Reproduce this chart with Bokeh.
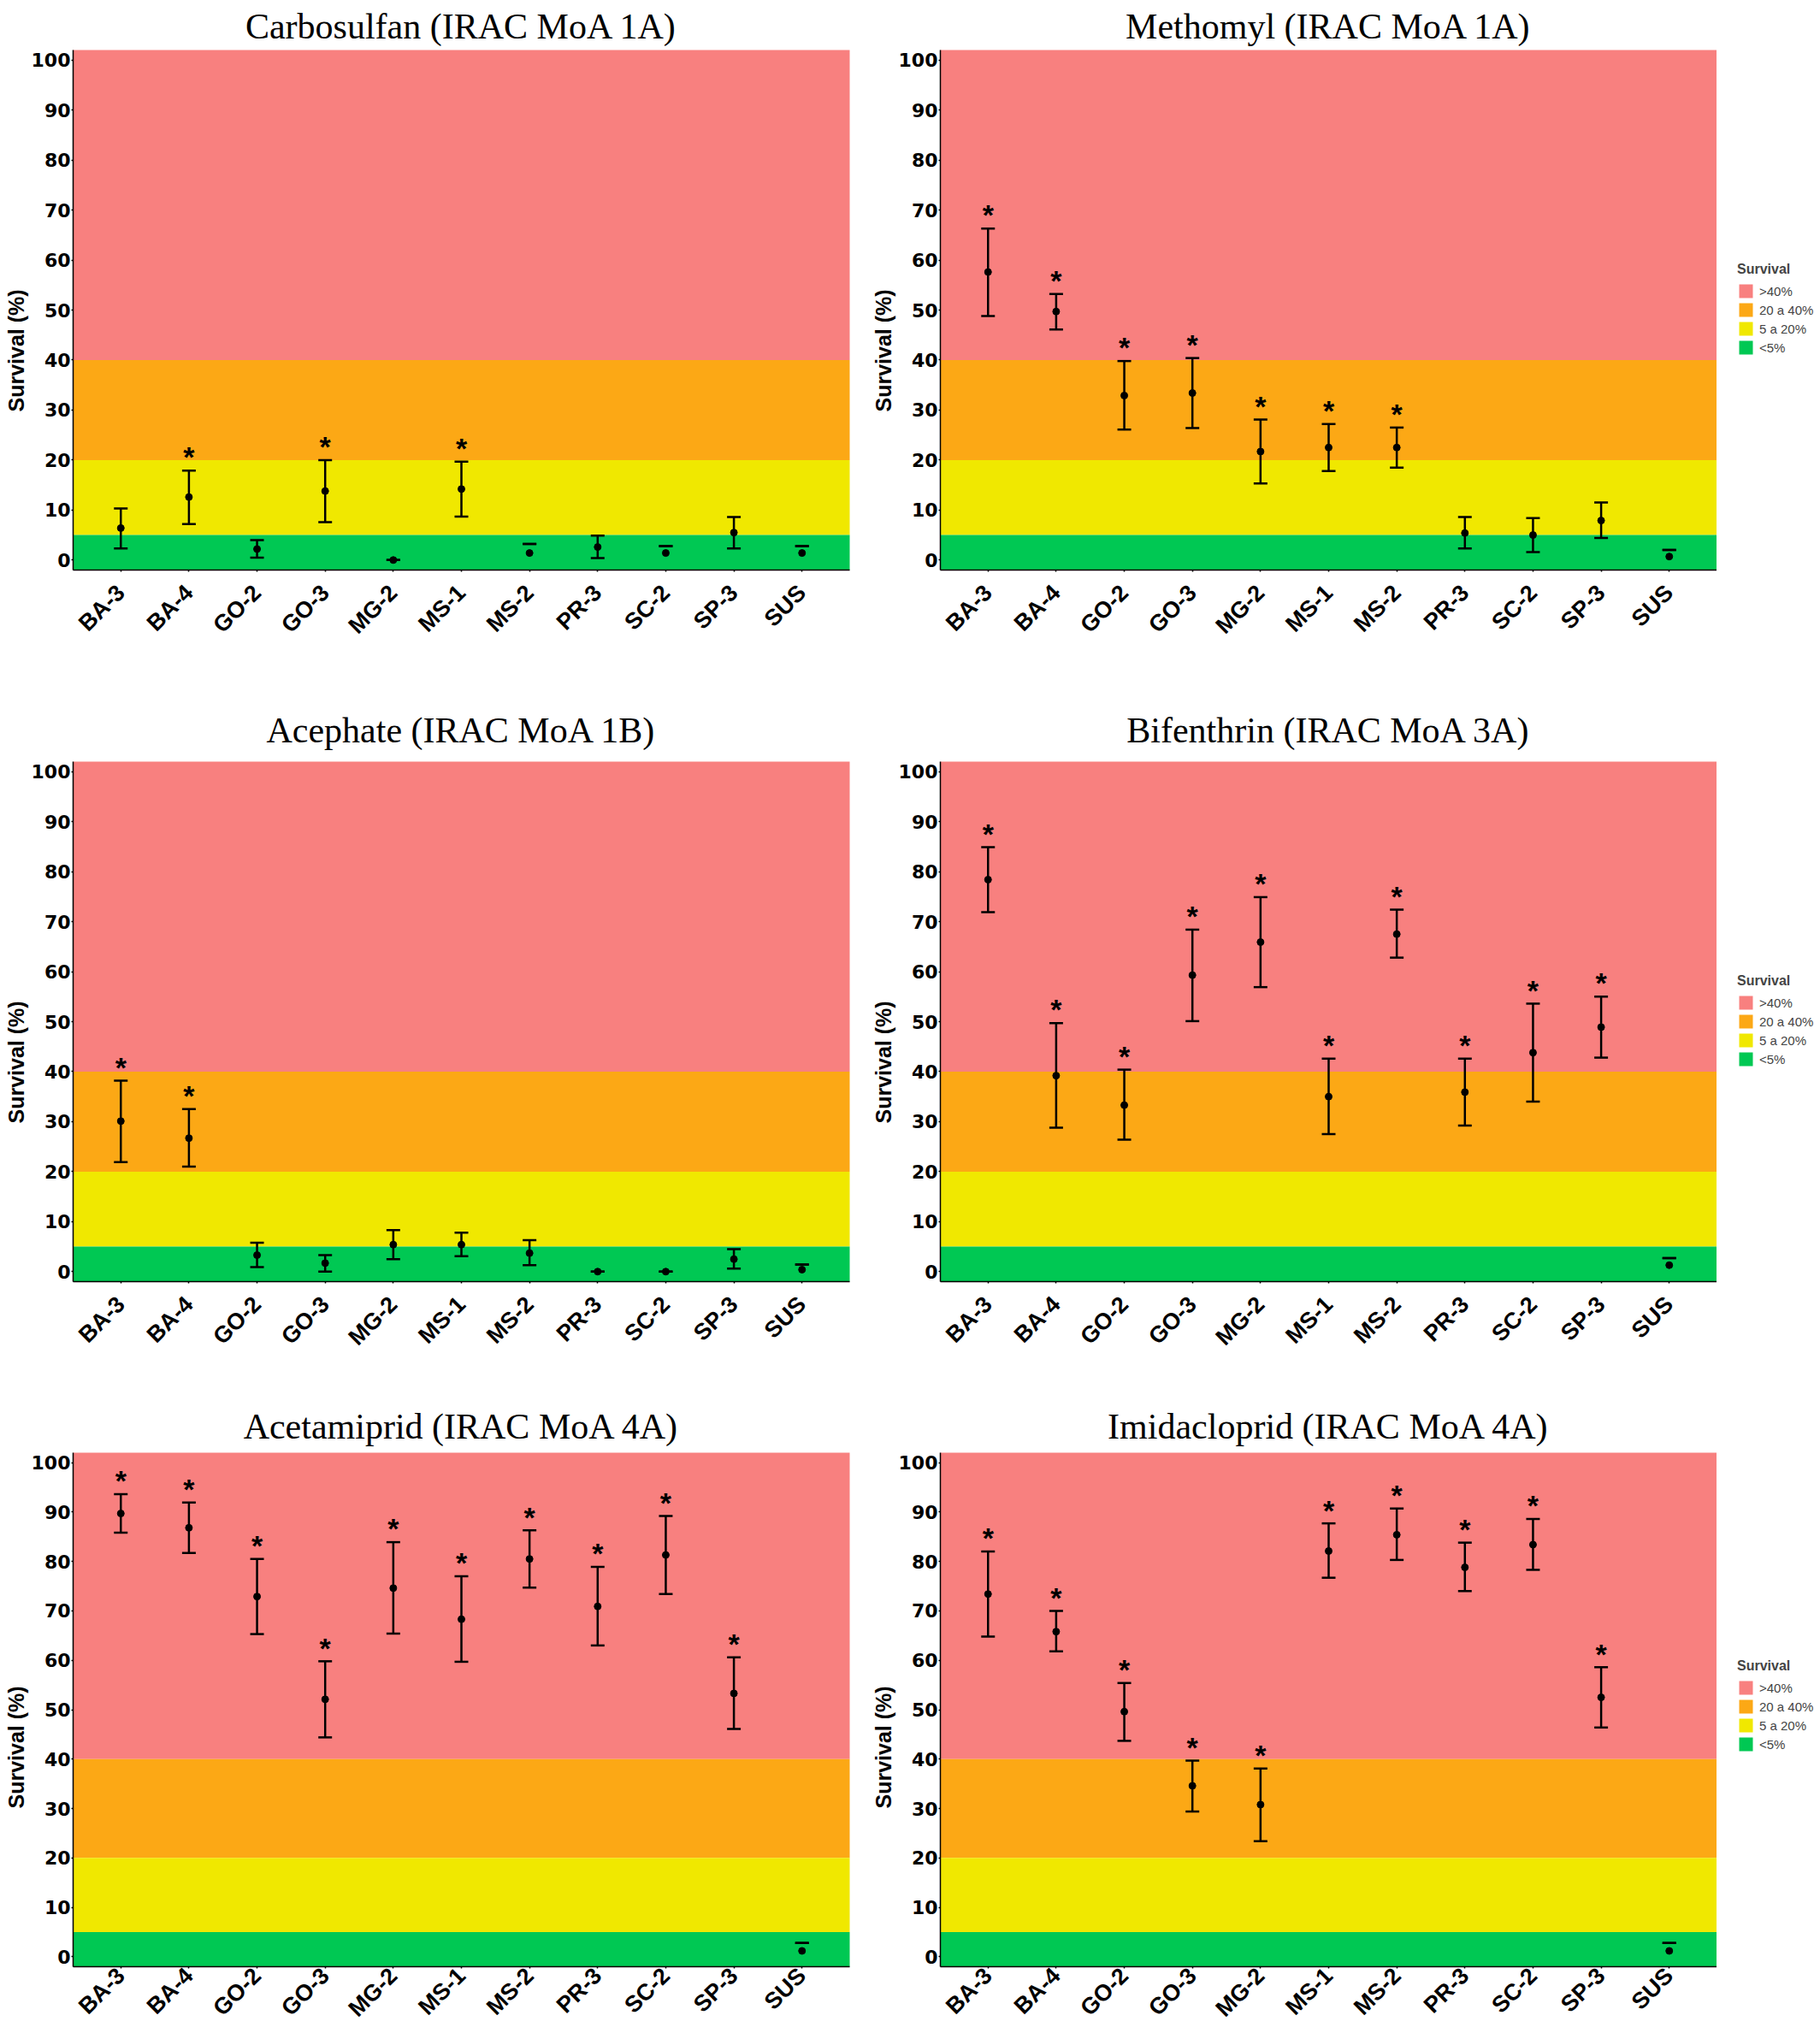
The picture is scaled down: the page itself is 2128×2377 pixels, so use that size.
import math
from bokeh.plotting import figure
from bokeh.models import (ColumnDataSource, FactorRange, Range1d, FixedTicker,
                          Whisker, TeeHead, Legend, LegendItem, Title)
from bokeh.layouts import row, column
from bokeh.embed import file_html
from bokeh.resources import INLINE
from bokeh.core.properties import value

# ---------------- data ----------------
categories = ["BA-3", "BA-4", "GO-2", "GO-3", "MG-2", "MS-1", "MS-2", "PR-3", "SC-2", "SP-3", "SUS"]
y_ticks = [0, 10, 20, 30, 40, 50, 60, 70, 80, 90, 100]
y_label = "Survival (%)"

band_labels = [">40%", "20 a 40%", "5 a 20%", "<5%"]
band_low = [40, 20, 5, -10]
band_high = [110, 40, 20, 5]
band_colors = ["#F8807F", "#FCA815", "#F0E800", "#00C853"]

titles = ["Carbosulfan (IRAC MoA 1A)", "Methomyl (IRAC MoA 1A)",
          "Acephate (IRAC MoA 1B)", "Bifenthrin (IRAC MoA 3A)",
          "Acetamiprid (IRAC MoA 4A)", "Imidacloprid (IRAC MoA 4A)"]

carbosulfan_mean = [6.4, 12.6, 2.2, 13.8, 0.0, 14.2, 1.4, 2.6, 1.4, 5.5, 1.4]
carbosulfan_upper = [10.3, 17.9, 4.0, 20.0, 0.0, 19.7, 3.2, 4.9, 2.8, 8.6, 2.8]
carbosulfan_lower = [2.3, 7.2, 0.5, 7.6, 0.0, 8.7, None, 0.4, None, 2.3, None]
carbosulfan_sig = [0, 1, 0, 1, 0, 1, 0, 0, 0, 0, 0]

methomyl_mean = [57.6, 49.7, 32.9, 33.4, 21.7, 22.5, 22.5, 5.4, 5.0, 7.9, 0.7]
methomyl_upper = [66.3, 53.2, 39.8, 40.4, 28.1, 27.2, 26.5, 8.6, 8.4, 11.5, 2.0]
methomyl_lower = [48.8, 46.1, 26.1, 26.4, 15.3, 17.8, 18.5, 2.3, 1.6, 4.4, None]
methomyl_sig = [1, 1, 1, 1, 1, 1, 1, 0, 0, 0, 0]

acephate_mean = [30.1, 26.7, 3.3, 1.7, 5.4, 5.4, 3.7, 0.0, 0.0, 2.5, 0.4]
acephate_upper = [38.2, 32.5, 5.8, 3.3, 8.3, 7.8, 6.3, 0.0, 0.0, 4.5, 1.4]
acephate_lower = [21.9, 21.0, 0.9, 0.0, 2.5, 3.1, 1.3, 0.0, 0.0, 0.6, None]
acephate_sig = [1, 1, 0, 0, 0, 0, 0, 0, 0, 0, 0]

bifenthrin_mean = [78.4, 39.2, 33.3, 59.3, 65.9, 35.0, 67.5, 35.9, 43.8, 48.9, 1.3]
bifenthrin_upper = [84.9, 49.7, 40.4, 68.4, 74.9, 42.6, 72.4, 42.6, 53.6, 55.0, 2.7]
bifenthrin_lower = [71.9, 28.8, 26.4, 50.1, 56.9, 27.5, 62.8, 29.2, 34.0, 42.8, None]
bifenthrin_sig = [1, 1, 1, 1, 1, 1, 1, 1, 1, 1, 0]

acetamiprid_mean = [89.7, 86.8, 72.9, 52.1, 74.6, 68.3, 80.5, 70.9, 81.3, 53.3, 1.2]
acetamiprid_upper = [93.6, 91.9, 80.5, 59.8, 83.9, 77.0, 86.3, 78.9, 89.2, 60.6, 2.8]
acetamiprid_lower = [85.8, 81.7, 65.3, 44.4, 65.4, 59.7, 74.7, 63.0, 73.4, 46.1, None]
acetamiprid_sig = [1, 1, 1, 1, 1, 1, 1, 1, 1, 1, 0]

imidacloprid_mean = [73.4, 65.8, 49.6, 34.6, 30.8, 82.1, 85.4, 78.8, 83.4, 52.5, 1.2]
imidacloprid_upper = [82.0, 70.0, 55.4, 39.7, 38.1, 87.7, 90.7, 83.8, 88.6, 58.6, 2.8]
imidacloprid_lower = [64.8, 61.8, 43.7, 29.4, 23.4, 76.7, 80.3, 74.0, 78.3, 46.4, None]
imidacloprid_sig = [1, 1, 1, 1, 1, 1, 1, 1, 1, 1, 0]

# ---------------- layout constants ----------------
FRAME_W = 908
FRAME_H = 608
LEG_W = 121


def band_source():
    return ColumnDataSource(dict(lo=band_low, hi=band_high, color=band_colors, label=band_labels))


def make_panel(title, mean, upper, lower, sig, right_col, top_border, bottom_border,
               title_standoff, xlabel_standoff):
    if right_col:
        width, mbl, mbr = 89 + FRAME_W, 89, 0
    else:
        width, mbl, mbr = 1010, 85, 1010 - 85 - FRAME_W
    height = top_border + FRAME_H + bottom_border

    p = figure(x_range=FactorRange(factors=categories, range_padding=0.2, range_padding_units="absolute"),
               y_range=Range1d(-2, 102), width=width, height=height,
               min_border_left=mbl, min_border_right=mbr,
               min_border_top=top_border, min_border_bottom=bottom_border,
               output_backend="svg", toolbar_location=None, title=title)
    p.title.align = "center"
    p.title.standoff = title_standoff
    p.title.text_font = "Liberation Serif"
    p.title.text_font_size = "42px"
    p.title.text_font_style = "normal"
    p.title.text_color = "black"

    p.outline_line_color = None
    p.grid.visible = False
    p.background_fill_color = "white"

    # background bands
    p.quad(left=-1, right=12, bottom="lo", top="hi", fill_color="color",
           line_color=None, source=band_source())

    # error bars
    lower_w = [l if l is not None else u for l, u in zip(lower, upper)]
    src = ColumnDataSource(dict(cat=categories, mean=mean, upper=upper, lower_w=lower_w))
    w = Whisker(base="cat", upper="upper", lower="lower_w", source=src,
                line_color="black", line_width=2.5, level="annotation",
                upper_head=TeeHead(size=16, line_width=2.5, line_color="black"),
                lower_head=TeeHead(size=16, line_width=2.5, line_color="black"))
    p.add_layout(w)
    p.scatter(x="cat", y="mean", size=8, color="black", source=src)

    # significance stars
    sc = [c for c, s in zip(categories, sig) if s]
    sy = [u + 2.7 for u, s in zip(upper, sig) if s]
    star_src = ColumnDataSource(dict(cat=sc, y=sy, t=["*"] * len(sc)))
    p.text(x="cat", y="y", text="t", source=star_src, text_font=value("Liberation Sans"),
           text_font_size="34px", text_font_style="bold", text_align="center",
           text_baseline="middle", text_color="black")

    # axes
    p.yaxis.ticker = FixedTicker(ticks=y_ticks)
    p.yaxis.major_label_text_font = "DejaVu Sans"
    p.yaxis.major_label_text_font_style = "bold"
    p.yaxis.major_label_text_font_size = "22px"
    p.yaxis.major_label_standoff = 1
    p.xaxis.major_label_orientation = math.pi / 4
    p.xaxis.major_label_text_font = "Liberation Sans"
    p.xaxis.major_label_text_font_style = "bold"
    p.xaxis.major_label_text_font_size = "27px"
    p.xaxis.major_label_standoff = xlabel_standoff
    p.axis.major_label_text_color = "black"
    p.axis.axis_line_color = "black"
    p.axis.axis_line_width = 1.5
    p.axis.major_tick_line_color = "black"
    p.axis.major_tick_line_width = 1.5
    p.axis.major_tick_out = 2
    p.axis.major_tick_in = 0
    p.axis.minor_tick_line_color = None

    # y axis title, starting ~185 px above the panel bottom as in the original
    p.add_layout(Title(text=y_label, align="left", offset=185, standoff=2,
                       text_font="Liberation Sans", text_font_style="bold",
                       text_font_size="25px", text_color="black"), "left")
    return p


def make_legend(height, top_border, bottom_border):
    lf = figure(width=LEG_W, height=height, x_range=(0, 1), y_range=(1000, 1001),
                min_border=0, min_border_left=0, min_border_right=0,
                min_border_top=top_border, min_border_bottom=bottom_border,
                x_axis_location=None, y_axis_location=None,
                output_backend="svg", toolbar_location=None)
    lf.outline_line_color = None
    lf.grid.visible = False
    r = lf.quad(left=0, right=1, bottom="lo", top="hi", fill_color="color",
                line_color=None, source=band_source())
    items = [LegendItem(label=lbl, renderers=[r], index=i) for i, lbl in enumerate(band_labels)]
    lg = Legend(items=items, title="Survival", location=(24, 250),
                glyph_width=20, glyph_height=20, label_height=20,
                label_text_font="Liberation Sans", label_text_font_size="15px",
                title_text_font="Liberation Sans", title_text_font_style="bold",
                title_text_font_size="16px", title_standoff=6, spacing=2,
                padding=0, margin=0, label_standoff=6,
                border_line_color=None, background_fill_alpha=0)
    lf.add_layout(lg)
    return lf


# (top border, bottom border, title standoff, x label standoff) of each row
rows_spec = [(58, 148, 10, 20), (76, 137, 28, 20), (63, 71, 15, 4)]
panel_data = [
    (carbosulfan_mean, carbosulfan_upper, carbosulfan_lower, carbosulfan_sig),
    (methomyl_mean, methomyl_upper, methomyl_lower, methomyl_sig),
    (acephate_mean, acephate_upper, acephate_lower, acephate_sig),
    (bifenthrin_mean, bifenthrin_upper, bifenthrin_lower, bifenthrin_sig),
    (acetamiprid_mean, acetamiprid_upper, acetamiprid_lower, acetamiprid_sig),
    (imidacloprid_mean, imidacloprid_upper, imidacloprid_lower, imidacloprid_sig),
]

rows = []
for r_i, (tb, bb, ts, xs) in enumerate(rows_spec):
    left = make_panel(titles[2 * r_i], *panel_data[2 * r_i], False, tb, bb, ts, xs)
    right = make_panel(titles[2 * r_i + 1], *panel_data[2 * r_i + 1], True, tb, bb, ts, xs)
    leg = make_legend(tb + FRAME_H + bb, tb, bb)
    rows.append(row(left, right, leg))

layout = column(*rows)
open("out.html", "w").write(file_html(layout, INLINE))
